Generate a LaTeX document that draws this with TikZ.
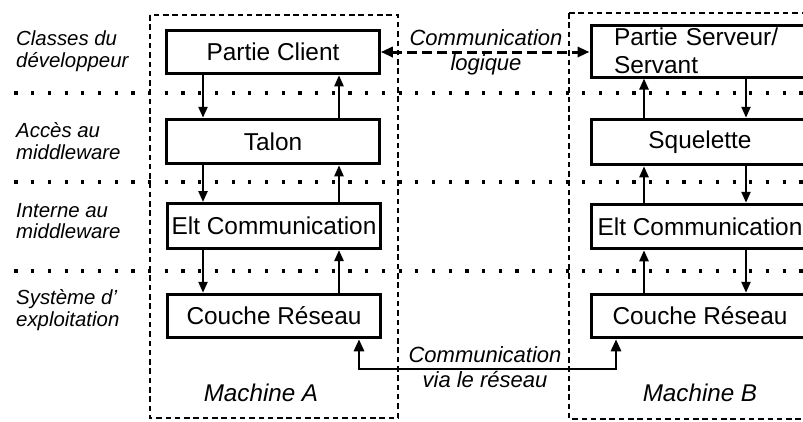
\documentclass[tikz,border=0pt]{standalone}
\usepackage{fontspec}
\setmainfont{Liberation Sans}
\usetikzlibrary{arrows.meta}
\tikzset{bigtip/.tip={Triangle[length=12pt,width=10pt]}}
\begin{document}
\begin{tikzpicture}[x=1pt,y=-1pt,
  box/.style={draw, line width=3pt, fill=white, inner sep=0pt, minimum height=43.5pt, font=\fontsize{24.4}{28}\selectfont},
  abox/.style={box, minimum width=212.5pt},
  bbox/.style={box, minimum width=218pt},
  arr/.style={line width=2.3pt, -{Triangle[length=11pt,width=9pt]}},
  sep/.style={line width=3.2pt, dash pattern=on 3.2pt off 13.5pt},
  machine/.style={line width=2.8pt, dash pattern=on 5.5pt off 3.8pt},
  lbl/.style={font=\fontsize{20.4}{21.5}\selectfont\itshape, align=left, anchor=west, inner sep=0pt},
  comm/.style={font=\fontsize{22}{25}\selectfont\itshape, align=center, inner sep=0pt},
  mach/.style={font=\fontsize{24.2}{28}\selectfont\itshape, inner sep=0pt, anchor=base},
]
\useasboundingbox (0,0) rectangle (803,421);
\fill[white] (0,0) rectangle (803,421);
% layer separators
\foreach \yy in {93,182,271} \draw[sep] (14.4,\yy) -- (815,\yy);
% machines
\draw[machine] (150,15) rectangle (398,418);
\draw[machine] (569,13) rectangle (840,419);
% column coordinates
\coordinate (ca1) at (203,0);
\coordinate (ca2) at (339,0);
\coordinate (cb1) at (644,0);
\coordinate (cb2) at (746,0);
% machine A boxes
\node[abox] (pc) at (273,52) {Partie Client};
\node[abox, minimum height=44.5pt] (ta) at (273,141.5) {Talon};
\node[abox, minimum height=45pt] (ea) at (274,226) {Elt Communication};
\node[abox] (ra) at (274,316) {Couche Réseau};
% machine B boxes
\node[bbox, minimum height=52pt, align=left, text width=172pt, inner xsep=23pt] (ps) at (700,51) {Partie Serveur/\\Servant};
\node[bbox, minimum height=45.5pt] (sq) at (700,142) {Squelette};
\node[bbox, minimum height=44.5pt] (eb) at (700,226.5) {Elt Communication};
\node[bbox] (rb) at (700,316) {Couche Réseau};
% vertical arrows A
\draw[arr] (pc.south -| ca1) -- (ta.north -| ca1);
\draw[arr] (ta.south -| ca1) -- (ea.north -| ca1);
\draw[arr] (ea.south -| ca1) -- (ra.north -| ca1);
\draw[arr] (ra.north -| ca2) -- (ea.south -| ca2);
\draw[arr] (ea.north -| ca2) -- (ta.south -| ca2);
\draw[arr] (ta.north -| ca2) -- (pc.south -| ca2);
% vertical arrows B
\draw[arr] (rb.north -| cb1) -- (eb.south -| cb1);
\draw[arr] (eb.north -| cb1) -- (sq.south -| cb1);
\draw[arr] (sq.north -| cb1) -- (ps.south -| cb1);
\draw[arr] (ps.south -| cb2) -- (sq.north -| cb2);
\draw[arr] (sq.south -| cb2) -- (eb.north -| cb2);
\draw[arr] (eb.south -| cb2) -- (rb.north -| cb2);
% logical communication
\draw[line width=3pt, dash pattern=on 10pt off 5pt, {bigtip}-{bigtip}] (pc.east) -- (pc.east -| ps.west);
% network communication
\coordinate (nA) at (359,369);
\coordinate (nB) at (616,369);
\draw[line width=2.7pt, {bigtip}-{bigtip}] (ra.south -| nA) -- (nA) -- (nB) -- (rb.south -| nB);
% labels
\node[lbl] (l1) at (16,51.3) {Classes du\\développeur};
\node[lbl] (l2) at (16,141) {Accès au\\middleware};
\node[lbl] (l3) at (16,221) {Interne au\\middleware};
\node[lbl] (l4) at (16,310) {Système d'\\exploitation};
\node[comm] (c1) at (486,52) {Communication\\logique};
\node[comm] (c2) at (485,367) {Communication\\via le réseau};
\node[mach] (ma) at (261,401.7) {Machine A};
\node[mach] (mb) at (700,401) {Machine B};
\end{tikzpicture}
\end{document}
